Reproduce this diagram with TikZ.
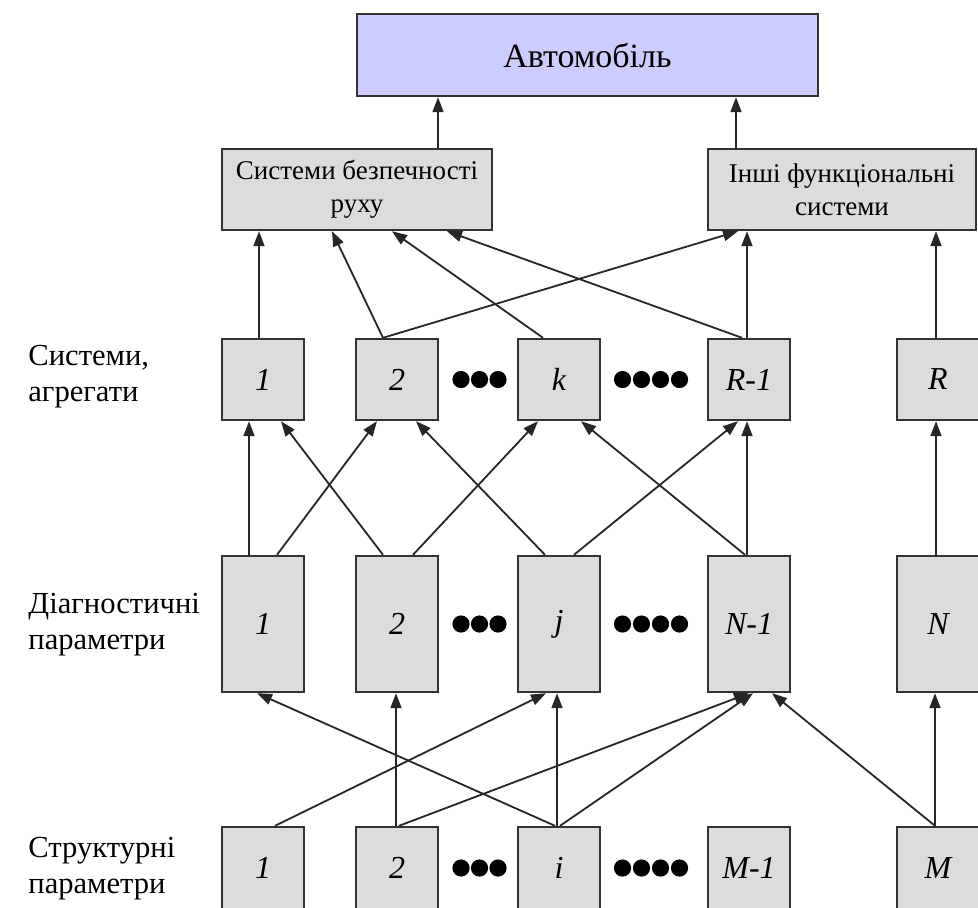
\documentclass[tikz,border=0pt]{standalone}
\usepackage{fontspec}
\setmainfont{Liberation Serif}
\usetikzlibrary{arrows.meta}

\definecolor{boxgray}{RGB}{220,220,220}
\definecolor{carblue}{RGB}{204,204,255}

\tikzset{
  blk/.style={draw=black!80, line width=1.2pt, fill=boxgray, inner sep=0pt},
  num/.style={blk, minimum width=41pt, font=\fontsize{16}{16}\selectfont\itshape},
  sysbox/.style={blk, minimum height=40.5pt, font=\fontsize{13.5}{16.5}\selectfont, align=center},
  arr/.style={-{Triangle[length=7.5pt,width=5.5pt]}, line width=0.9pt, draw=black!85},
  lbl/.style={anchor=west, align=left, inner sep=0pt, font=\fontsize{15.3}{18}\selectfont},
}

\begin{document}
\begin{tikzpicture}[x=0.5pt, y=-0.5pt]
  \useasboundingbox (0,0) rectangle (978,907);
  \fill[white] (0,0) rectangle (978,907);
  \clip (0,0) rectangle (978,907);

  % top
  \node[blk, fill=carblue, minimum width=230.5pt, minimum height=41pt,
        font=\fontsize{17}{17}\selectfont] (car) at (587.5,55) {Автомобіль};

  \node[sysbox, minimum width=135pt] (safety) at (357,189.5) {Системи безпечності\\руху};
  \node[sysbox, minimum width=134pt] (other) at (842,189.5) {Інші функціональні\\системи};

  \draw[arr] ([xshift=40.5pt]safety.north) -- ([xshift=40.5pt]safety.north |- car.south);
  \draw[arr] ([xshift=-53pt]other.north) -- ([xshift=-53pt]other.north |- car.south);

  % rows of elements
  \foreach \n/\x/\t in {1/263/1, 2/397/2, k/559/k, r1/749/R-1, r/938/R}
    \node[num, minimum height=40.5pt] (s\n) at (\x,379.5) {\t};
  \foreach \n/\x/\t in {1/263/1, 2/397/2, j/559/j, n1/749/N-1, n/938/N}
    \node[num, minimum height=68pt] (d\n) at (\x,624) {\t};
  \foreach \n/\x/\t in {1/263/1, 2/397/2, i/559/i, m1/749/M-1, m/938/M}
    \node[num, minimum height=41pt] (p\n) at (\x,868) {\t};

  % dots
  \foreach \y in {379.5,624,868}
    \foreach \x in {461,479.5,498,622.5,641.5,660.5,679.5}
      \fill (\x,\y) circle [radius=4.3pt];

  % level names
  \node[lbl] (lsys) at (28,377) {Системи,\\агрегати};
  \node[lbl] (ldiag) at (28,625) {Діагностичні\\параметри};
  \node[lbl] (lstr) at (28,868.5) {Структурні\\параметри};

  % systems -> groups
  \draw[arr] ([xshift=-2pt]s1.north) -- ([xshift=-2pt]s1.north |- safety.south);
  \draw[arr] ([xshift=-7pt]s2.north) -- ([xshift=-12.5pt]safety.south);
  \draw[arr] ([xshift=-7pt]s2.north) -- ([xshift=-52pt]other.south);
  \draw[arr] ([xshift=-8pt]sk.north) -- ([xshift=17.5pt]safety.south);
  \draw[arr] ([xshift=-3.5pt]sr1.north) -- ([xshift=45pt]safety.south);
  \draw[arr] ([xshift=-1pt]sr1.north) -- ([xshift=-1pt]sr1.north |- other.south);
  \draw[arr] ([xshift=-1pt]sr.north) -- ([xshift=-1pt]sr.north |- other.south);

  % diagnostic -> systems
  \draw[arr] ([xshift=-7pt]d1.north) -- ([xshift=-7pt]s1.south);
  \draw[arr] ([xshift=7pt]d1.north) -- ([xshift=-10pt]s2.south);
  \draw[arr] ([xshift=-7pt]d2.north) -- ([xshift=9pt]s1.south);
  \draw[arr] ([xshift=8pt]d2.north) -- ([xshift=-10.5pt]sk.south);
  \draw[arr] ([xshift=-7pt]dj.north) -- ([xshift=9.5pt]s2.south);
  \draw[arr] ([xshift=7.5pt]dj.north) -- ([xshift=-5.5pt]sr1.south);
  \draw[arr] ([xshift=-2pt]dn1.north) -- ([xshift=11pt]sk.south);
  \draw[arr] ([xshift=-1pt]dn1.north) -- ([xshift=-1pt]sr1.south);
  \draw[arr] ([xshift=-1pt]dn.north) -- ([xshift=-1pt]sr.south);

  % structural -> diagnostic
  \draw[arr] ([xshift=6pt]p1.north) -- ([xshift=-6.5pt]dj.south);
  \draw[arr] ([xshift=-0.5pt]p2.north) -- ([xshift=-0.5pt]d2.south);
  \draw[arr] ([xshift=1pt]p2.north) -- (dn1.south);
  \draw[arr] ([xshift=-2pt]pi.north) -- ([xshift=-3pt]d1.south);
  \draw[arr] ([xshift=-1pt]pi.north) -- ([xshift=-1pt]dj.south);
  \draw[arr] ([xshift=0.5pt]pi.north) -- ([xshift=2pt]dn1.south);
  \draw[arr] ([xshift=-1.5pt]pm.north) -- ([xshift=11.5pt]dn1.south);
  \draw[arr] ([xshift=-1.5pt]pm.north) -- ([xshift=-1.5pt]dn.south);
\end{tikzpicture}
\end{document}
